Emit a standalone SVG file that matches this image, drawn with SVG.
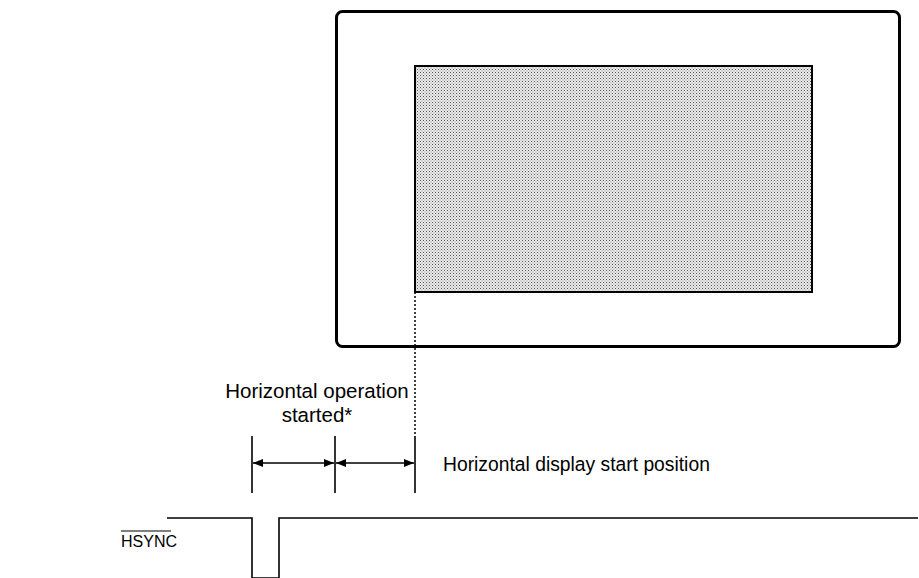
<svg xmlns="http://www.w3.org/2000/svg" width="919" height="578" viewBox="0 0 919 578">
<style>
text{font-family:"Liberation Sans",Arial,sans-serif;fill:#000}
.t{font-size:20.5px}
.ln{stroke:#000;stroke-width:1.6;fill:none}
</style>
<defs>
<pattern id="dots" width="3" height="3" patternUnits="userSpaceOnUse">
<rect width="3" height="3" fill="#ebebeb"/>
<rect x="0" y="0" width="1" height="1" fill="#555"/>
<rect x="1.5" y="1.5" width="1" height="1" fill="#888"/>
</pattern>
<marker id="ah" viewBox="0 0 10 8" refX="10" refY="4" markerWidth="10" markerHeight="8" markerUnits="userSpaceOnUse" orient="auto-start-reverse">
<path d="M0,0 L10,4 L0,8 Z" fill="#000"/>
</marker>
</defs>
<rect width="919" height="578" fill="#fff"/>
<g id="screen">
<rect x="336.5" y="11.5" width="563" height="335" rx="6" fill="none" stroke="#000" stroke-width="3"/>
</g>
<g id="display-area">
<rect x="415" y="66" width="397" height="226" fill="url(#dots)" stroke="#000" stroke-width="2"/>
</g>
<g id="labels">
<text class="t" x="317" y="398" text-anchor="middle">Horizontal operation</text>
<text class="t" x="317" y="422" text-anchor="middle">started*</text>
<text x="443" y="471" font-size="19.3">Horizontal display start position</text>
<text x="121" y="547" font-size="16">HSYNC</text>
<line x1="121" y1="531" x2="171" y2="531" stroke="#000" stroke-width="1.2"/>
</g>
<g id="connectors">
<line x1="415" y1="292" x2="415" y2="436" stroke="#000" stroke-width="1.5" stroke-dasharray="2,2"/>
<line class="ln" x1="252" y1="436" x2="252" y2="493"/>
<line class="ln" x1="335" y1="436" x2="335" y2="493"/>
<line class="ln" x1="415" y1="436" x2="415" y2="493"/>
<line class="ln" x1="253" y1="463" x2="334" y2="463" marker-start="url(#ah)" marker-end="url(#ah)"/>
<line class="ln" x1="336" y1="463" x2="414" y2="463" marker-start="url(#ah)" marker-end="url(#ah)"/>
<path class="ln" d="M167,518 H252 V578 H279 V518 H918"/>
</g>
</svg>
